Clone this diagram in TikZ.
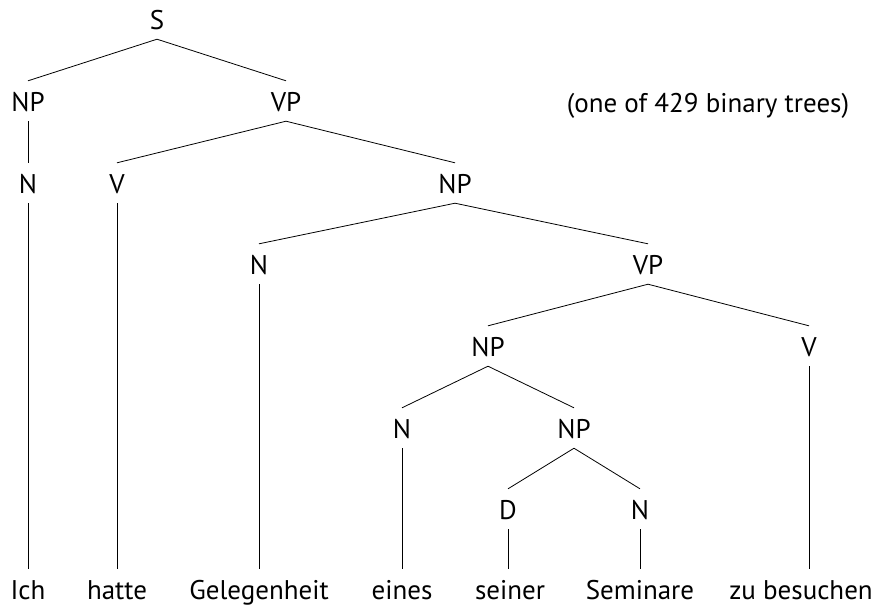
\documentclass[tikz,border=0pt]{standalone}
\usepackage{fontspec}
\setmainfont{PT Sans}
\begin{document}
\begin{tikzpicture}[x=1pt,y=-1pt,
  cat/.style={anchor=base,inner sep=0pt,text height=30pt,text depth=10pt,font=\fontsize{27}{32}\selectfont},
  word/.style={cat,text height=30pt,text depth=0pt},
  edge/.style={line width=0.8pt}]
\useasboundingbox (0,0) rectangle (885,606);
% categories
\node[cat] (s) at (157,29) {S};
\node[cat] (np1) at (28,111) {NP};
\node[cat] (vp1) at (286,111) {VP};
\node[cat] (n1) at (28,193) {N};
\node[cat] (v1) at (117,193) {V};
\node[cat] (np2) at (455,193) {NP};
\node[cat] (n2) at (259,274) {N};
\node[cat] (vp2) at (648,274) {VP};
\node[cat] (np3) at (488,356) {NP};
\node[cat] (v2) at (809,356) {V};
\node[cat] (n3) at (402,438) {N};
\node[cat] (np4) at (574,438) {NP};
\node[cat] (d1) at (508,519) {D};
\node[cat] (n4) at (640,519) {N};
% words
\node[word] (w1) at (28,599) {Ich};
\node[word] (w2) at (117,599) {hatte};
\node[word] (w3) at (259,599) {Gelegenheit};
\node[word] (w4) at (402,599) {eines};
\node[word] (w5) at (510,599) {seiner};
\node[word] (w6) at (640,599) {Seminare};
\node[word] (w7) at (801,599) {zu besuchen};
% note
\node[cat,text height=0pt,text depth=0pt] (note) at (708,112) {(one of 429 binary trees)};
% branches between categories
\foreach \a/\b in {s/np1,s/vp1,np1/n1,vp1/v1,vp1/np2,np2/n2,np2/vp2,
  vp2/np3,vp2/v2,np3/n3,np3/np4,np4/d1,np4/n4}
  \draw[edge] (\a.south) -- (\b.north);
% vertical stems down to the words
\foreach \a/\b in {n1/w1,v1/w2,n2/w3,n3/w4,d1/w5,n4/w6,v2/w7}
  \draw[edge] (\a.south) -- (\a.south |- \b.north);
\end{tikzpicture}
\end{document}
